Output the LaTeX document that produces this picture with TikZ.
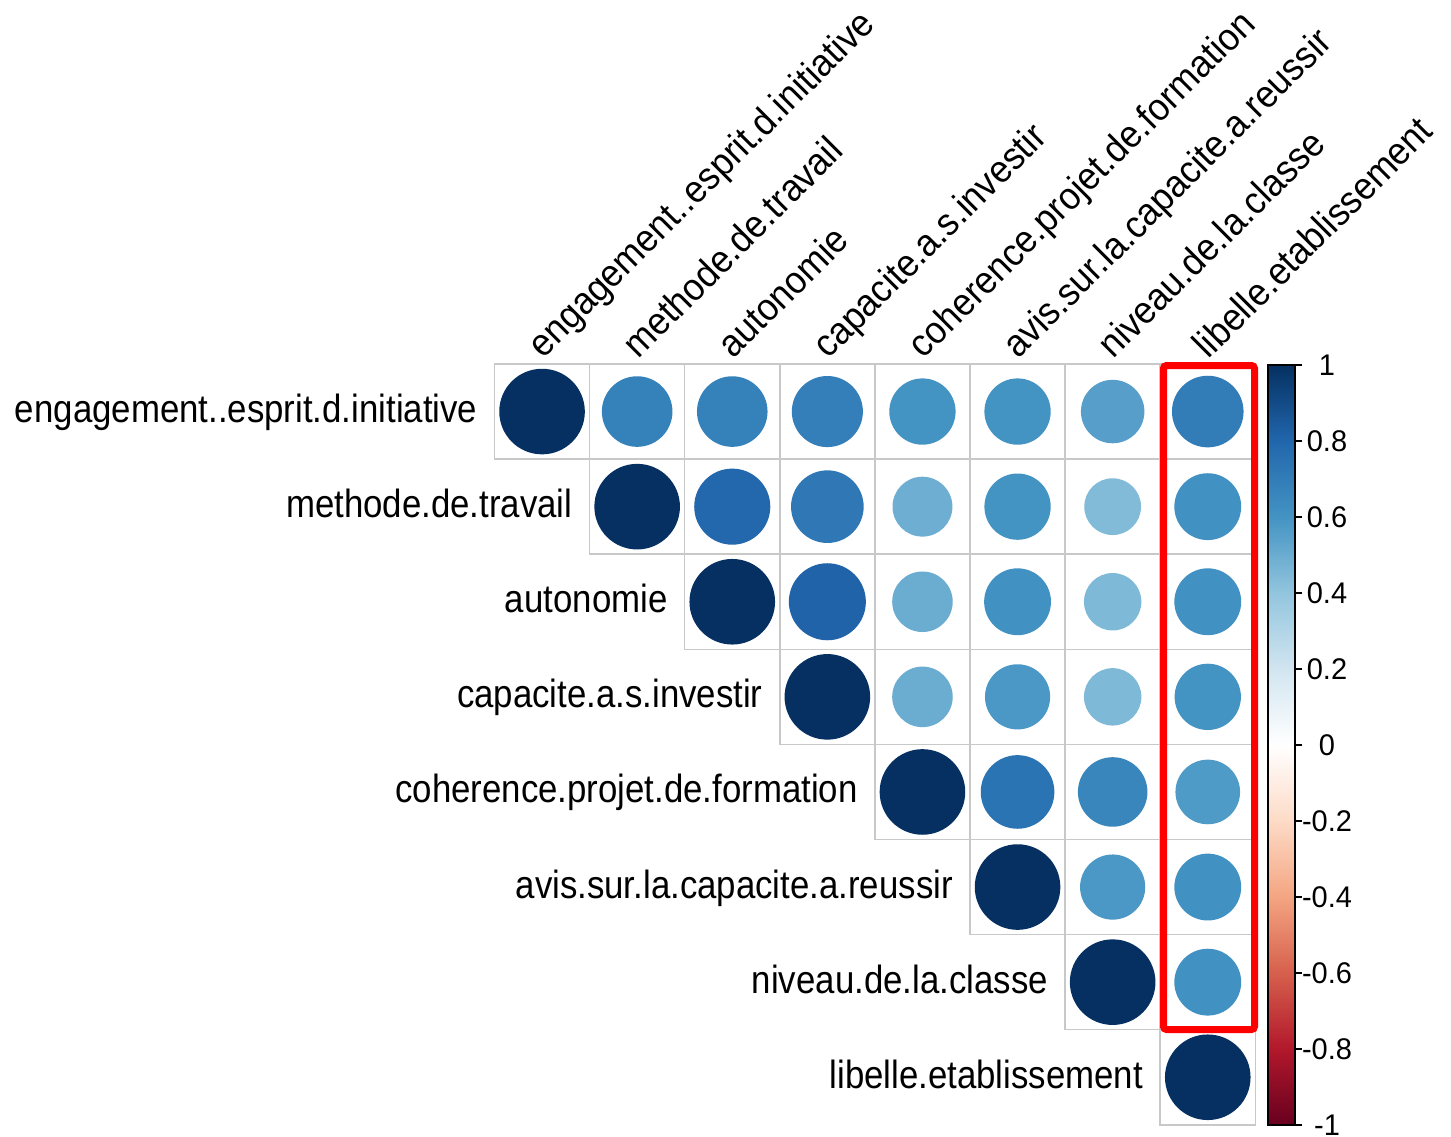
\documentclass[tikz,border=0pt]{standalone}
\usepackage{fontspec}
\setmainfont{Liberation Sans}
\definecolor{cm10}{HTML}{67001F}
\definecolor{cm8}{HTML}{B2182B}
\definecolor{cm6}{HTML}{D6604D}
\definecolor{cm4}{HTML}{F4A582}
\definecolor{cm2}{HTML}{FDDBC7}
\definecolor{cz}{HTML}{FFFFFF}
\definecolor{cp2}{HTML}{D1E5F0}
\definecolor{cp4}{HTML}{92C5DE}
\definecolor{cp6}{HTML}{4393C3}
\definecolor{cp8}{HTML}{2166AC}
\definecolor{cp10}{HTML}{053061}
\definecolor{gridgray}{HTML}{C8C8C8}
\pgfdeclareverticalshading{cbarshade}{100bp}{color(0bp)=(cm10); color(25bp)=(cm10); color(30bp)=(cm8); color(35bp)=(cm6); color(40bp)=(cm4); color(45bp)=(cm2); color(50bp)=(cz); color(55bp)=(cp2); color(60bp)=(cp4); color(65bp)=(cp6); color(70bp)=(cp8); color(75bp)=(cp10); color(100bp)=(cp10)}
\newcommand\setcorrcolor[1]{%
  \pgfmathsetmacro\corrv{#1}%
  \ifdim\corrv pt<0.6pt
    \pgfmathsetmacro\corrt{(\corrv-0.4)*500}%
    \colorlet{cc}{cp6!\corrt!cp4}%
  \else\ifdim\corrv pt<0.8pt
    \pgfmathsetmacro\corrt{(\corrv-0.6)*500}%
    \colorlet{cc}{cp8!\corrt!cp6}%
  \else
    \pgfmathsetmacro\corrt{(\corrv-0.8)*500}%
    \colorlet{cc}{cp10!\corrt!cp8}%
  \fi\fi}
\newcommand\lab[1]{\scalebox{1}[1.13]{#1}}
\newcommand\clab[1]{\scalebox{1.02}[1.1]{#1}}
\newcommand\numlab[1]{\scalebox{1}[1.03]{#1}}
\tikzset{
  cellbox/.style={draw=gridgray, line width=1.5pt, rectangle, minimum size=95.1pt, inner sep=0pt, outer sep=0pt},
  rowlab/.style={anchor=base east, inner sep=0pt, font=\fontsize{34.8}{40}\selectfont},
  collab/.style={anchor=base west, inner sep=0pt, rotate=45, font=\fontsize{34.8}{40}\selectfont},
  cblab/.style={anchor=base, inner sep=0pt, font=\fontsize{29}{34}\selectfont},
  cbtick/.style={draw=black, line width=2pt},
  highlight/.style={draw=red, line width=7pt, rounded corners=3pt}
}
\begin{document}
\begin{tikzpicture}[x=1pt, y=-1pt]
\useasboundingbox[fill=white] (0,0) rectangle (1451,1137);
% cells
\foreach \i in {1,...,8} {
  \foreach \j in {\i,...,8} {
    \node[cellbox] (c\i\j) at ({494.5+95.1*(\j-0.5)},{364+95.1*(\i-0.5)}) {};
  }
}
% circles
\foreach \i/\j/\cv in {1/1/1, 2/2/1, 3/3/1, 4/4/1, 5/5/1, 6/6/1, 7/7/1, 8/8/1,
  1/2/0.68, 1/3/0.68, 1/4/0.69, 1/5/0.60, 1/6/0.60, 1/7/0.55, 1/8/0.70,
  2/3/0.79, 2/4/0.72, 2/5/0.49, 2/6/0.60, 2/7/0.44, 2/8/0.61,
  3/4/0.81, 3/5/0.50, 3/6/0.61, 3/7/0.45, 3/8/0.61,
  4/5/0.50, 4/6/0.58, 4/7/0.45, 4/8/0.60,
  5/6/0.74, 5/7/0.66, 5/8/0.57,
  6/7/0.58, 6/8/0.61,
  7/8/0.61} {
  \setcorrcolor{\cv}
  \pgfmathsetmacro\rad{0.45*95.1*sqrt(\cv)}
  \fill[cc] (c\i\j.center) circle[radius=\rad pt];
}
% row labels
\node[rowlab] (r1) at ({494.5+95.1*0-17},{364+95.1*0.5+11}) {\lab{engagement..esprit.d.initiative}};
\node[rowlab] (r2) at ({494.5+95.1*1-17},{364+95.1*1.5+11}) {\lab{methode.de.travail}};
\node[rowlab] (r3) at ({494.5+95.1*2-17},{364+95.1*2.5+11}) {\lab{autonomie}};
\node[rowlab] (r4) at ({494.5+95.1*3-17},{364+95.1*3.5+11}) {\lab{capacite.a.s.investir}};
\node[rowlab] (r5) at ({494.5+95.1*4-17},{364+95.1*4.5+11}) {\lab{coherence.projet.de.formation}};
\node[rowlab] (r6) at ({494.5+95.1*5-17},{364+95.1*5.5+11}) {\lab{avis.sur.la.capacite.a.reussir}};
\node[rowlab] (r7) at ({494.5+95.1*6-17},{364+95.1*6.5+11}) {\lab{niveau.de.la.classe}};
\node[rowlab] (r8) at ({494.5+95.1*7-17},{364+95.1*7.5+11}) {\lab{libelle.etablissement}};
% column labels
\node[collab] (k1) at ({494.5+95.1*0.5+1},360) {\clab{engagement..esprit.d.initiative}};
\node[collab] (k2) at ({494.5+95.1*1.5+1},360) {\clab{methode.de.travail}};
\node[collab] (k3) at ({494.5+95.1*2.5+1},360) {\clab{autonomie}};
\node[collab] (k4) at ({494.5+95.1*3.5+1},360) {\clab{capacite.a.s.investir}};
\node[collab] (k5) at ({494.5+95.1*4.5+1},360) {\clab{coherence.projet.de.formation}};
\node[collab] (k6) at ({494.5+95.1*5.5+1},360) {\clab{avis.sur.la.capacite.a.reussir}};
\node[collab] (k7) at ({494.5+95.1*6.5+1},360) {\clab{niveau.de.la.classe}};
\node[collab] (k8) at ({494.5+95.1*7.5+1},360) {\clab{libelle.etablissement}};
% highlight rectangle
\coordinate (hl1) at (1163.5,365.5);
\coordinate (hl2) at (1254.5,1029.5);
\draw[highlight] (hl1) rectangle (hl2);
% colour bar
\node[shading=cbarshade, draw=black, line width=2pt, rectangle, minimum width=27pt, minimum height=760pt, inner sep=0pt] (cbar) at (1281.5,744.7) {};
\foreach \k/\t in {0/1, 1/0.8, 2/0.6, 3/0.4, 4/0.2, 5/0, 6/-0.2, 7/-0.4, 8/-0.6, 9/-0.8, 10/-1} {
  \coordinate (ta\k) at (1295,{364.7+76*\k});
  \coordinate (tb\k) at (1302,{364.7+76*\k});
  \draw[cbtick] (ta\k) -- (tb\k);
  \node[cblab] (cl\k) at (1327,{364.7+76*\k+11}) {\numlab{\t}};
}
\end{tikzpicture}
\end{document}
